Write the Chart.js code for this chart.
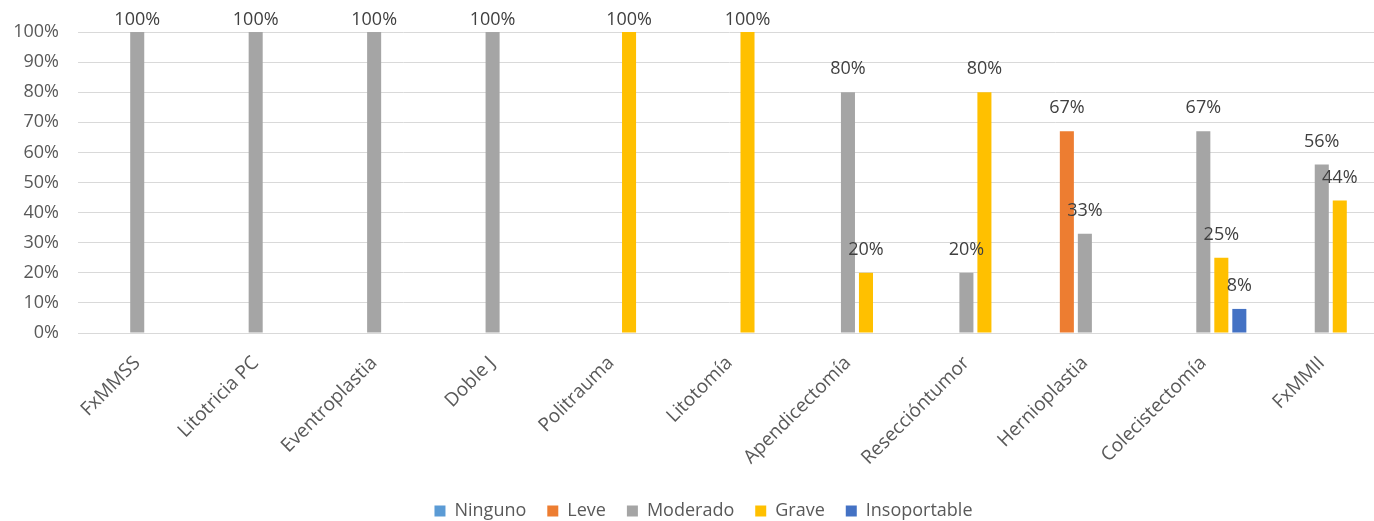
<!DOCTYPE html>
<html>
<head>
<meta charset="utf-8">
<script src="https://cdn.jsdelivr.net/npm/chart.js@4.4.0/dist/chart.umd.min.js"></script>
<style>
  html, body { margin: 0; padding: 0; background: #fff; overflow: hidden; }
  #wrap { position: absolute; left: 0; top: 0; width: 1412px; height: 530px; }
</style>
</head>
<body>
<div id="wrap"><canvas id="c"></canvas></div>
<script>
const categorias = ["FxMMSS", "Litotricia PC", "Eventroplastia", "Doble J", "Politrauma", "Litotomía",
  "Apendicectomía", "Reseccióntumor", "Hernioplastia", "Colecistectomía", "FxMMII"];
const ninguno      = [0, 0, 0, 0, 0, 0, 0, 0, 0, 0, 0];
const leve         = [0, 0, 0, 0, 0, 0, 0, 0, 67, 0, 0];
const moderado     = [100, 100, 100, 100, 0, 0, 80, 20, 33, 67, 56];
const grave        = [0, 0, 0, 0, 100, 100, 20, 80, 0, 25, 44];
const insoportable = [0, 0, 0, 0, 0, 0, 0, 0, 0, 8, 0];

const fuente = "'Open Sans', 'Liberation Sans', sans-serif";

// etiquetas de valor encima de cada barra (solo > 0)
const etiquetas = {
  id: "etiquetas",
  afterDatasetsDraw(chart) {
    const ctx = chart.ctx;
    ctx.save();
    ctx.font = "18px " + fuente;
    ctx.fillStyle = "#404040";
    ctx.textAlign = "center";
    ctx.textBaseline = "middle";
    chart.data.datasets.forEach((ds, i) => {
      const meta = chart.getDatasetMeta(i);
      meta.data.forEach((bar, j) => {
        const v = ds.data[j];
        if (!v) return;
        ctx.fillText(v + "%", bar.x, Math.max(bar.y - 23, 20));
      });
    });
    ctx.restore();
  }
};

// la leyenda queda un poco a la derecha, como en el original
const moverLeyenda = {
  id: "moverLeyenda",
  afterLayout(chart) {
    chart.legend.left += 13;
    chart.legend.right += 13;
  }
};

function serie(label, data, color) {
  return {
    label: label,
    data: data,
    backgroundColor: color,
    borderWidth: 0,
    categoryPercentage: 0.76,
    barPercentage: 0.78
  };
}

new Chart(document.getElementById("c"), {
  type: "bar",
  data: {
    labels: categorias,
    datasets: [
      serie("Ninguno", ninguno, "#5b9bd5"),
      serie("Leve", leve, "#ed7d31"),
      serie("Moderado", moderado, "#a5a5a5"),
      serie("Grave", grave, "#ffc000"),
      serie("Insoportable", insoportable, "#4472c4")
    ]
  },
  options: {
    responsive: true,
    maintainAspectRatio: false,
    animation: false,
    layout: { padding: { top: 32, right: 31, left: 0, bottom: 0 } },
    plugins: {
      tooltip: { enabled: false },
      legend: {
        position: "bottom",
        labels: {
          boxWidth: 11,
          boxHeight: 11,
          padding: 21,
          color: "#595959",
          font: { family: fuente, size: 18 }
        }
      }
    },
    scales: {
      x: {
        grid: { display: false, drawTicks: false },
        border: { color: "#d9d9d9", width: 1 },
        ticks: {
          color: "#595959",
          font: { family: fuente, size: 19 },
          minRotation: 45,
          maxRotation: 45,
          padding: 19,
          autoSkip: false
        },
        afterFit(scale) { scale.height = 148; }
      },
      y: {
        min: 0,
        max: 100,
        grid: { color: "#d9d9d9", lineWidth: 1, drawTicks: false },
        border: { display: false },
        ticks: {
          stepSize: 10,
          color: "#595959",
          font: { family: fuente, size: 18 },
          padding: 19,
          callback: (v) => v + "%"
        },
        afterFit(scale) { scale.width = 78; }
      }
    }
  },
  plugins: [etiquetas, moverLeyenda]
});
</script>
</body>
</html>
